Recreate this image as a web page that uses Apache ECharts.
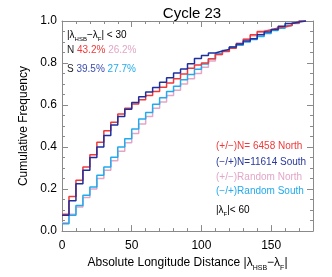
<!DOCTYPE html>
<html><head><meta charset="utf-8">
<script src="https://cdn.jsdelivr.net/npm/echarts@6/dist/echarts.min.js"></script>
<style>html,body{margin:0;padding:0;background:#fff}#c{width:332px;height:277px}</style>
</head><body><div id="c"></div>
<script>
// bin starts (width 5) for absolute longitude distance
var binStarts = [0,5,10,15,20,25,30,35,40,45,50,55,60,65,70,75,80,85,90,95,100,105,110,115,120,125,130,135,140,145,150,155,160,165,170,175];
// cumulative frequencies (last value repeated to close the final step)
var northObs = [0.08,0.165,0.242,0.305,0.363,0.423,0.478,0.518,0.557,0.585,0.605,0.625,0.645,0.665,0.685,0.705,0.725,0.748,0.775,0.79,0.80,0.82,0.84,0.855,0.87,0.89,0.912,0.935,0.95,0.958,0.967,0.973,0.98,0.99,1.0,1.0];
var southObs = [0.075,0.145,0.225,0.29,0.35,0.40,0.455,0.505,0.545,0.58,0.612,0.64,0.662,0.683,0.709,0.73,0.753,0.772,0.797,0.822,0.836,0.848,0.857,0.865,0.876,0.89,0.905,0.915,0.935,0.948,0.96,0.975,0.988,0.995,1.0,1.0];
var northRnd = [0.04,0.08,0.115,0.16,0.20,0.25,0.29,0.335,0.38,0.42,0.465,0.51,0.545,0.585,0.615,0.645,0.67,0.70,0.725,0.75,0.78,0.81,0.84,0.86,0.875,0.895,0.915,0.93,0.945,0.955,0.962,0.97,0.978,0.988,1.0,1.0];
var southRnd = [0.035,0.075,0.122,0.171,0.21,0.266,0.305,0.352,0.40,0.439,0.486,0.533,0.565,0.604,0.635,0.665,0.69,0.72,0.745,0.77,0.795,0.82,0.845,0.86,0.875,0.885,0.9,0.912,0.926,0.94,0.955,0.965,0.978,0.99,1.0,1.0];
var xTicks = [0,50,100,150];
var yTicks = [0.0,0.2,0.4,0.6,0.8,1.0];

var C = {red:'#ee3a3a', navy:'#1e2f9e', pink:'#e3a6c6', lblue:'#22aaee'};
var FONT = '"Liberation Sans", Arial, Helvetica, sans-serif';

function mk(vals){ return binStarts.map(function(x,i){ return [x, vals[i]]; }); }
function ser(name, vals, color, z){
  return {name:name, type:'line', step:'end', data:mk(vals), symbol:'none', z:z,
    lineStyle:{color:color, width:1.5}, itemStyle:{color:color}, animation:false, silent:true};
}
var axisGrey = '#8a8a8a';
function xAx(pos, labels){
  return {type:'value', position:pos, min:0, max:180, interval:50,
    axisLine:{show:true, onZero:false, lineStyle:{color:axisGrey, width:1}},
    axisTick:{show:true, inside:true, length:6, lineStyle:{color:axisGrey}},
    minorTick:{show:true, splitNumber:5, length:3, lineStyle:{color:axisGrey}},
    splitLine:{show:false},
    axisLabel:{show:labels, color:'#000', fontSize:12, fontFamily:FONT, margin:9,
      formatter:function(v){ return xTicks.indexOf(v)>=0 ? String(v) : ''; }},
    name: labels ? '{m|Absolute Longitude Distance |λ}{s|HSB}{m|−λ}{s|F}{m||}' : '',
    nameLocation:'middle', nameGap:22,
    nameTextStyle:{fontFamily:FONT, rich:{m:{fontSize:12, color:'#000', fontFamily:FONT, padding:[0,0,3,0], verticalAlign:'bottom'}, s:{fontSize:7, color:'#000', fontFamily:FONT, verticalAlign:'bottom'}}}
  };
}
function yAx(pos, labels){
  return {type:'value', position:pos, min:0, max:1, interval:0.2,
    axisLine:{show:true, onZero:false, lineStyle:{color:axisGrey, width:1}},
    axisTick:{show:true, inside:true, length:6, lineStyle:{color:axisGrey}},
    minorTick:{show:true, splitNumber:4, length:3, lineStyle:{color:axisGrey}},
    splitLine:{show:false},
    axisLabel:{show:labels, color:'#000', fontSize:12, fontFamily:FONT, margin:5,
      formatter:function(v){ return v.toFixed(1); }},
    name: labels ? 'Cumulative Frequency' : '', nameLocation:'middle', nameGap:29,
    nameTextStyle:{fontSize:12, color:'#000', fontFamily:FONT}
  };
}
var richSub = {
  m:{fontSize:10, color:'#222', fontFamily:FONT, padding:[0,0,2,0], verticalAlign:'bottom'},
  s:{fontSize:6, color:'#222', fontFamily:FONT, verticalAlign:'bottom'}
};
function txt(x,y,text,color,size){
  return {type:'text', left:x, top:y, silent:true, style:{text:text, fill:color, fontSize:size||10, fontFamily:FONT}};
}
var chart = echarts.init(document.getElementById('c'), null, {renderer:'canvas'});
chart.setOption({
  animation:false,
  title:{text:'Cycle 23', left:187, top:1, textAlign:'center', textStyle:{fontSize:15, fontWeight:'normal', color:'#000', fontFamily:FONT}},
  grid:{left:62, right:19, top:21, bottom:44},
  xAxis:[xAx('bottom', true), xAx('top', false)],
  yAxis:[yAx('left', true), yAx('right', false)],
  series:[
    ser('(+/−)Random North', northRnd, C.pink, 2),
    ser('(−/+)Random South', southRnd, C.lblue, 3),
    ser('(+/−)N= 6458 North', northObs, C.red, 4),
    ser('(−/+)N=11614 South', southObs, C.navy, 5)
  ],
  graphic:[
    {type:'text', left:67, top:30, silent:true, style:{text:'{m||λ}{s|HSB}{m|−λ}{s|F}{m|| < 30}', rich:richSub}},
    {type:'text', left:67, top:45, silent:true, style:{text:'{k|N }{r|43.2% }{p|26.2%}', rich:{
      k:{fontSize:10, fill:'#222', fontFamily:FONT}, r:{fontSize:10, fill:C.red, fontFamily:FONT}, p:{fontSize:10, fill:C.pink, fontFamily:FONT}}}},
    {type:'text', left:67, top:64, silent:true, style:{text:'{k|S }{n|39.5% }{b|27.7%}', rich:{
      k:{fontSize:10, fill:'#222', fontFamily:FONT}, n:{fontSize:10, fill:'#3a4cb0', fontFamily:FONT}, b:{fontSize:10, fill:C.lblue, fontFamily:FONT}}}},
    txt(216, 141, '(+/−)N= 6458 North', C.red),
    txt(216, 157, '(−/+)N=11614 South', '#2a3a9c'),
    txt(216, 172, '(+/−)Random North', C.pink),
    txt(216, 186, '(−/+)Random South', C.lblue),
    {type:'text', left:216, top:205, silent:true, style:{text:'{m||λ}{s|F}{m||< 60}', rich:richSub}}
  ]
});
</script></body></html>
